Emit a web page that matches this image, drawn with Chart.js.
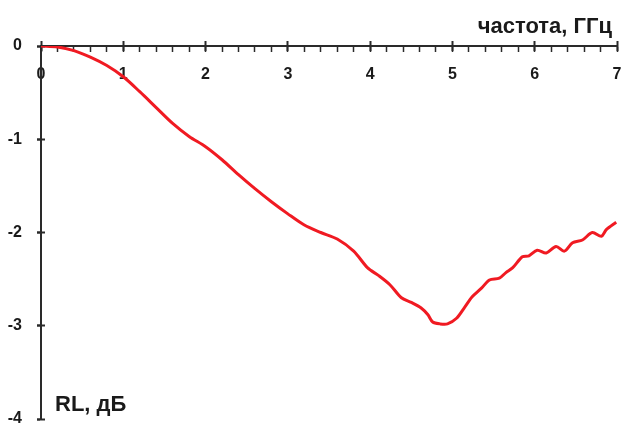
<!DOCTYPE html>
<html><head><meta charset="utf-8">
<script src="https://cdn.jsdelivr.net/npm/chart.js@4"></script>
<style>html,body{margin:0;padding:0;background:#fff;}canvas{display:block;}</style>
</head><body>
<canvas id="c" width="625" height="426"></canvas>
<script>
const freqGHz = [0,0.2,0.4,0.6,0.8,1.0,1.2,1.4,1.6,1.8,2.0,2.2,2.4,2.6,2.8,3.0,3.2,3.4,3.6,3.8,3.97,4.1,4.24,4.38,4.5,4.62,4.7,4.76,4.85,4.94,5.05,5.15,5.24,5.35,5.45,5.57,5.65,5.73,5.85,5.93,6.03,6.14,6.26,6.36,6.46,6.58,6.70,6.81,6.87,6.99];
const rlDb = [0,-0.01,-0.05,-0.12,-0.21,-0.33,-0.49,-0.66,-0.83,-0.97,-1.08,-1.22,-1.38,-1.53,-1.67,-1.80,-1.92,-2.00,-2.07,-2.20,-2.38,-2.46,-2.56,-2.70,-2.75,-2.81,-2.88,-2.96,-2.98,-2.98,-2.92,-2.80,-2.69,-2.60,-2.51,-2.49,-2.43,-2.38,-2.26,-2.25,-2.19,-2.22,-2.15,-2.20,-2.11,-2.08,-2.00,-2.04,-1.97,-1.89];
const xTitle = 'частота, ГГц';
const yTitle = 'RL, дБ';
const xRange = [0, 7];
const yRange = [-4, 0];

const axisColor = '#2a2a2a';
const textColor = '#1a1a1a';
const tickFont = {family: '"Liberation Sans", Arial, sans-serif', size: 16, weight: 'bold'};

const noPad = s => { s.paddingLeft = 0; s.paddingRight = 0; s.paddingTop = 0; s.paddingBottom = 0; };

const titlesPlugin = {
  id: 'axisTitles',
  afterDraw(chart) {
    const ctx = chart.ctx;
    const xs = chart.scales.x, ys = chart.scales.y;
    ctx.save();
    ctx.fillStyle = textColor;
    ctx.font = 'bold 22px "Liberation Sans", Arial, sans-serif';
    ctx.textBaseline = 'middle';
    ctx.textAlign = 'right';
    ctx.fillText(xTitle, xs.getPixelForValue(xRange[1]) - 5, ys.getPixelForValue(0) - 19);
    ctx.textAlign = 'left';
    ctx.fillText(yTitle, xs.getPixelForValue(0) + 14, ys.getPixelForValue(yRange[0]) - 14);
    ctx.restore();
  }
};

new Chart(document.getElementById('c'), {
  type: 'line',
  data: {
    datasets: [{
      data: freqGHz.map((f, i) => ({x: f, y: rlDb[i]})),
      borderColor: '#f01a22',
      borderWidth: 3,
      pointRadius: 0,
      tension: 0.3,
      fill: false
    }]
  },
  options: {
    responsive: false,
    animation: false,
    layout: {padding: {left: 0, right: 8, top: 46, bottom: 7}},
    plugins: {legend: {display: false}, tooltip: {enabled: false}},
    scales: {
      x: {
        type: 'linear', min: xRange[0], max: xRange[1],
        position: {y: 0},
        afterFit: noPad,
        border: {display: true, color: axisColor, width: 2},
        grid: {drawOnChartArea: false, drawTicks: true, tickLength: 5, tickColor: axisColor, tickWidth: 1.5},
        ticks: {stepSize: 0.2, padding: 14, color: textColor, font: tickFont, maxRotation: 0, autoSkip: false,
          callback: v => Math.abs(v - Math.round(v)) < 1e-6 ? String(Math.round(v)) : ''}
      },
      x2: {
        type: 'linear', axis: 'x', min: xRange[0], max: xRange[1],
        position: {y: 0.05},
        afterFit: noPad,
        border: {display: false},
        grid: {drawOnChartArea: false, drawTicks: true, tickLength: 10, tickColor: axisColor, tickWidth: 2},
        ticks: {stepSize: 1, display: false}
      },
      y: {
        type: 'linear', min: yRange[0], max: yRange[1],
        position: 'left',
        afterFit: s => { noPad(s); s.width = 41; },
        border: {display: true, color: axisColor, width: 2},
        grid: {drawOnChartArea: false, drawTicks: true, tickLength: 4, tickColor: axisColor, tickWidth: 2},
        ticks: {stepSize: 1, padding: 15, color: textColor, font: tickFont}
      },
      y2: {
        type: 'linear', axis: 'y', min: yRange[0], max: yRange[1],
        position: {x: 0.05},
        afterFit: noPad,
        border: {display: false},
        grid: {drawOnChartArea: false, drawTicks: true, tickLength: 8, tickColor: axisColor, tickWidth: 2},
        ticks: {stepSize: 1, display: false}
      }
    }
  },
  plugins: [titlesPlugin]
});
</script>
</body></html>
